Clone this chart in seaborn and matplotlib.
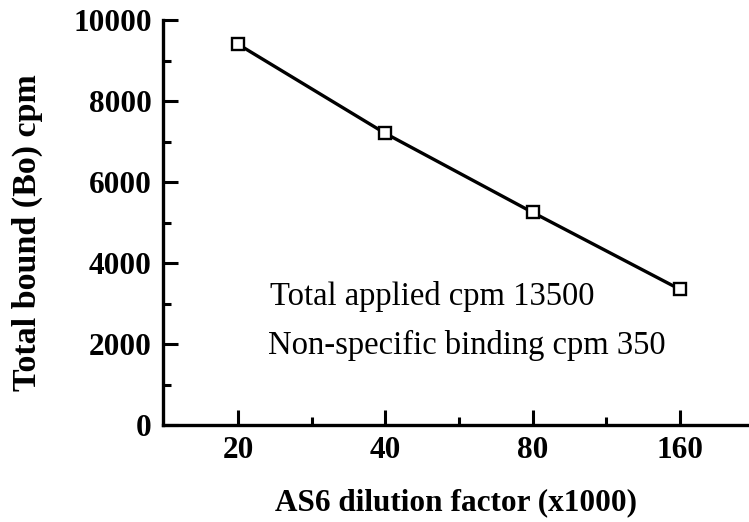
import numpy as np
import pandas as pd
import matplotlib
matplotlib.use("Agg")
import matplotlib.pyplot as plt
import seaborn as sns
from matplotlib.ticker import FixedLocator, MultipleLocator, NullFormatter

# Data
dilution = [20, 40, 80, 160]
total_bound = [9400, 7200, 5250, 3350]
x_ticks = [20, 40, 80, 160]
y_ticks = [0, 2000, 4000, 6000, 8000, 10000]
notes = ["Total applied cpm 13500", "Non-specific binding cpm 350"]

df = pd.DataFrame({"dilution": dilution, "bound": total_bound})

sns.set_theme(style="white")
plt.rcParams["font.family"] = ["Liberation Serif", "DejaVu Serif"]
plt.rcParams.update({"text.color": "black", "axes.labelcolor": "black",
                     "xtick.color": "black", "ytick.color": "black"})

fig = plt.figure(figsize=(7.49, 5.22), dpi=100)
ax = fig.add_axes([163 / 749, 97 / 522, 586 / 749, 405 / 522])

sns.lineplot(data=df, x="dilution", y="bound", ax=ax, color="black",
             linewidth=2.4, marker="s", markersize=8.5,
             markerfacecolor="white", markeredgecolor="black",
             markeredgewidth=1.7)

ax.set_xscale("log", base=2)
ax.set_xlim(20 * 2 ** -0.51, 20 * 2 ** 3.47)
ax.set_ylim(0, 10000)

ax.xaxis.set_major_locator(FixedLocator(x_ticks))
ax.set_xticklabels([str(v) for v in x_ticks])
ax.xaxis.set_minor_locator(FixedLocator([v * np.sqrt(2) for v in x_ticks[:-1]]))
ax.xaxis.set_minor_formatter(NullFormatter())
ax.yaxis.set_major_locator(FixedLocator(y_ticks))
ax.yaxis.set_minor_locator(MultipleLocator(1000))

for side in ["top", "right"]:
    ax.spines[side].set_visible(False)
for side in ["left", "bottom"]:
    ax.spines[side].set_linewidth(2.4)
    ax.spines[side].set_color("black")

ax.tick_params(which="major", direction="in", length=11, width=2.2, color="black",
               labelcolor="black", labelsize=22.5, pad=8)
ax.tick_params(which="minor", direction="in", length=6, width=2.2, color="black")
ax.tick_params(axis="x", which="both", bottom=True)
ax.tick_params(axis="y", which="both", left=True)
for lab in ax.get_xticklabels() + ax.get_yticklabels():
    lab.set_fontweight("bold")

ax.set_xlabel("AS6 dilution factor (x1000)", fontsize=22.5, fontweight="bold",
              color="black")
ax.set_ylabel("Total bound (Bo) cpm", fontsize=24.5, fontweight="bold",
              color="black")
ax.xaxis.set_label_coords(0.5, (425 - 503) / 405)
ax.xaxis.label.set_va("center")
ax.yaxis.set_label_coords((27 - 163) / 586, (425 - 233) / 405)
ax.yaxis.label.set_va("center")

ax.text(270 / 749, 1 - 297 / 522, notes[0], transform=fig.transFigure,
        fontsize=23.5, va="center", ha="left", color="black")
ax.text(268 / 749, 1 - 345 / 522, notes[1], transform=fig.transFigure,
        fontsize=23.5, va="center", ha="left", color="black")

fig.savefig("out.png", dpi=100)
